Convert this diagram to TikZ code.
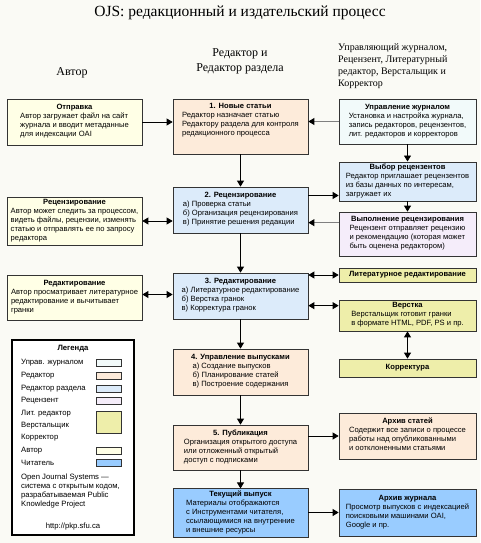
\documentclass[tikz,border=0pt]{standalone}
\usepackage{fontspec}
\setmainfont{Liberation Serif}
\setsansfont{Liberation Sans}
\usetikzlibrary{arrows.meta}

\definecolor{bgclr}{HTML}{FAFAF5}
\definecolor{auclr}{HTML}{FFFFE6}
\definecolor{edclr}{HTML}{FDEBDA}
\definecolor{seclr}{HTML}{DCEBFA}
\definecolor{jmclr}{HTML}{F2FAFA}
\definecolor{rvclr}{HTML}{F5EDFA}
\definecolor{ceclr}{HTML}{EEEEAA}
\definecolor{rdclr}{HTML}{99CCFF}

\tikzset{
  box/.style={draw=black!80, line width=0.7pt, font=\sffamily\fontsize{7.6}{9}\selectfont,
    align=center, inner sep=2pt, minimum width=135pt},
  rbox/.style={box, minimum width=137pt},
  lab/.style={font=\sffamily\fontsize{7.7}{9}\selectfont, inner sep=0pt},
  arr/.style={line width=0.8pt, -{Triangle[width=7pt,length=6pt]}},
  garr/.style={line width=0.8pt, draw=black!50, -{Triangle[width=7pt,length=6pt,color=black]}},
  darr/.style={line width=0.8pt, {Triangle[width=7pt,length=6pt]}-{Triangle[width=7pt,length=6pt]}},
}
\newcommand{\steps}[1]{\begin{tabular}[t]{@{}l@{}}#1\end{tabular}}

\begin{document}
\begin{tikzpicture}[x=1pt,y=-1pt]
 \fill[bgclr] (0,0) rectangle (480,543);

 % headers
 \node[font=\fontsize{15.5}{18}\selectfont] (title) at (240,13) {OJS: редакционный и издательский процесс};
 \node[font=\fontsize{12}{15}\selectfont] (hauthor) at (72,73) {Автор};
 \node[font=\fontsize{12}{15}\selectfont, align=center] (heditor) at (240,61) {Редактор и\\Редактор раздела};
 \node[font=\fontsize{10}{12}\selectfont, align=left, anchor=west, inner sep=0pt] (hothers) at (338,66)
   {Управляющий журналом,\\Рецензент, Литературный\\редактор, Верстальщик и\\Корректор};

 % left column: author
 \node[box, fill=auclr, minimum height=46pt] (submit) at (74.5,122)
   {\textbf{Отправка}\\\steps{Автор загружает файл на сайт\\журнала и вводит метаданные\\для индексации OAI}};
 \node[box, fill=auclr, minimum height=46pt] (arev) at (74.5,221)
   {\textbf{Рецензирование}\\\steps{Автор может следить за процессом,\\видеть файлы, рецензии, изменять\\статью и отправлять ее по запросу\\редактора}};
 \node[box, fill=auclr, minimum height=45pt] (aed) at (74.5,297.5)
   {\textbf{Редактирование}\\\steps{Автор просматривает литературное\\редактирование и вычитывает\\гранки}};

 % middle column: editors
 \node[box, fill=edclr, minimum height=55pt] (new) at (240.5,126.5)
   {\textbf{1. Новые статьи}\\\steps{Редактор назначает статью\\Редактору раздела для контроля\\редакционного процесса\\[11pt]}};
 \node[box, fill=seclr, minimum height=46pt] (rev) at (240.5,210)
   {\textbf{2. Рецензирование}\\\steps{а) Проверка статьи\\б) Организация рецензирования\\в) Принятие решения редакции}};
 \node[box, fill=seclr, minimum height=46pt] (ed) at (240.5,296)
   {\textbf{3. Редактирование}\\\steps{а) Литературное редактирование\\б) Верстка гранок\\в) Корректура гранок}};
 \node[box, fill=edclr, minimum height=46pt] (iss) at (240.5,372)
   {\textbf{4. Управление выпусками}\\\steps{а) Создание выпусков\\б) Планирование статей\\в) Построение содержания}};
 \node[box, fill=edclr, minimum height=45pt] (pub) at (240.5,447.5)
   {\textbf{5. Публикация}\\\steps{Организация открытого доступа\\или отложенный открытый\\доступ с подписками}};
 \node[box, fill=rdclr, minimum height=46pt] (cur) at (240.5,513)
   {\textbf{Текущий выпуск}\\\steps{Материалы отображаются\\с Инструментами читателя,\\ссылающимися на внутренние\\и внешние ресурсы}};

 % right column
 \node[rbox, fill=jmclr, minimum height=45pt] (jm) at (407.5,121.5)
   {\textbf{Управление журналом}\\\steps{Установка и настройка журнала,\\запись редакторов, рецензентов,\\лит. редакторов и корректоров}};
 \node[rbox, fill=seclr, minimum height=39pt] (sel) at (407.5,181.5)
   {\textbf{Выбор рецензентов}\\\steps{Редактор приглашает рецензентов\\из базы данных по интересам,\\загружает их}};
 \node[rbox, fill=rvclr, minimum height=44pt] (exec) at (407.5,234)
   {\textbf{Выполнение рецензирования}\\\steps{Рецензент отправляет рецензию\\и рекомендацию (которая может\\быть оценена редактором)}};
 \node[rbox, fill=ceclr, minimum height=14pt] (copy) at (407.5,275)
   {\textbf{Литературное редактирование}};
 \node[rbox, fill=ceclr, minimum height=31pt] (lay) at (407.5,315.5)
   {\textbf{Верстка}\\\steps{Верстальщик готовит гранки\\в формате HTML, PDF, PS и пр.}};
 \node[rbox, fill=ceclr, minimum height=18pt] (proof) at (407.5,368)
   {\textbf{Корректура}};
 \node[rbox, fill=edclr, minimum height=46pt] (arch) at (407.5,436)
   {\textbf{Архив статей}\\\steps{Содержит все записи о процессе\\работы над опубликованными\\и оотклоненными статьями}};
 \node[rbox, fill=rdclr, minimum height=47pt] (jarch) at (407.5,512.5)
   {\textbf{Архив журнала}\\\steps{Просмотр выпусков с индексацией\\поисковыми машинами OAI,\\Google и пр.}};

 % connectors
 \draw[arr] (submit.east) -- (submit.east -| new.west);
 \draw[garr] (jm.west) -- (jm.west -| new.east);
 \draw[arr] (jm.south) -- (sel.north);
 \draw[arr] (sel.south) -- (exec.north);
 \draw[arr] (new.south) -- (rev.north);
 \coordinate (selin) at ([yshift=6pt]sel.south west);
 \draw[arr] (selin -| rev.east) -- (selin);
 \coordinate (execout) at ([yshift=-11pt]exec.north west);
 \draw[garr] (execout) -- (execout -| rev.east);
 \draw[darr] (arev.east) -- (arev.east -| rev.west);
 \draw[arr] (rev.south) -- (ed.north);
 \coordinate (aedout) at ([yshift=3pt]aed.east);
 \draw[darr] (aedout) -- (aedout -| ed.west);
 \draw[darr] (copy.west -| ed.east) -- (copy.west);
 \coordinate (layin) at ([yshift=-6pt]lay.north west);
 \draw[darr] (layin -| ed.east) -- (layin);
 \draw[darr] (lay.south) -- (proof.north);
 \draw[arr] (ed.south) -- (iss.north);
 \draw[arr] (iss.south) -- (pub.north);
 \draw[arr] (pub.south) -- (cur.north);
 \draw[arr] (pub.east |- arch.west) -- (arch.west);
 \draw[arr] (cur.east |- jarch.west) -- (jarch.west);

 % legend
 \node[draw=black, line width=1.2pt, fill=white, minimum width=122pt, minimum height=195pt, inner sep=0pt] (legend) at (73,437.5) {};
 \node[lab, font=\sffamily\bfseries\fontsize{7.7}{9}\selectfont] (legtitle) at (73,349) {Легенда};
 \foreach \y/\txt/\clr [count=\i] in {363/Управ. журналом/jmclr, 376/Редактор/edclr,
     389/Редактор раздела/seclr, 401/Рецензент/rvclr, 451/Автор/auclr, 463/Читатель/rdclr} {
   \node[lab, anchor=west] (key\i) at (21,\y) {\txt};
   \draw[black!80, fill=\clr] (96,\y-3.5) rectangle (121,\y+3.5);
 }
 \foreach \y/\txt [count=\i] in {414/Лит. редактор, 426/Верстальщик, 438/Корректор}
   \node[lab, anchor=west] (ce\i) at (21,\y) {\txt};
 \draw[black!80, fill=ceclr] (96,411) rectangle (121,433);
 \node[lab, anchor=north west, align=left] (legnote) at (21,474)
   {Open Journal Systems —\\система с открытым кодом,\\разрабатываемая Public\\Knowledge Project};
 \node[lab] (legurl) at (73,527) {http://pkp.sfu.ca};
\end{tikzpicture}
\end{document}
